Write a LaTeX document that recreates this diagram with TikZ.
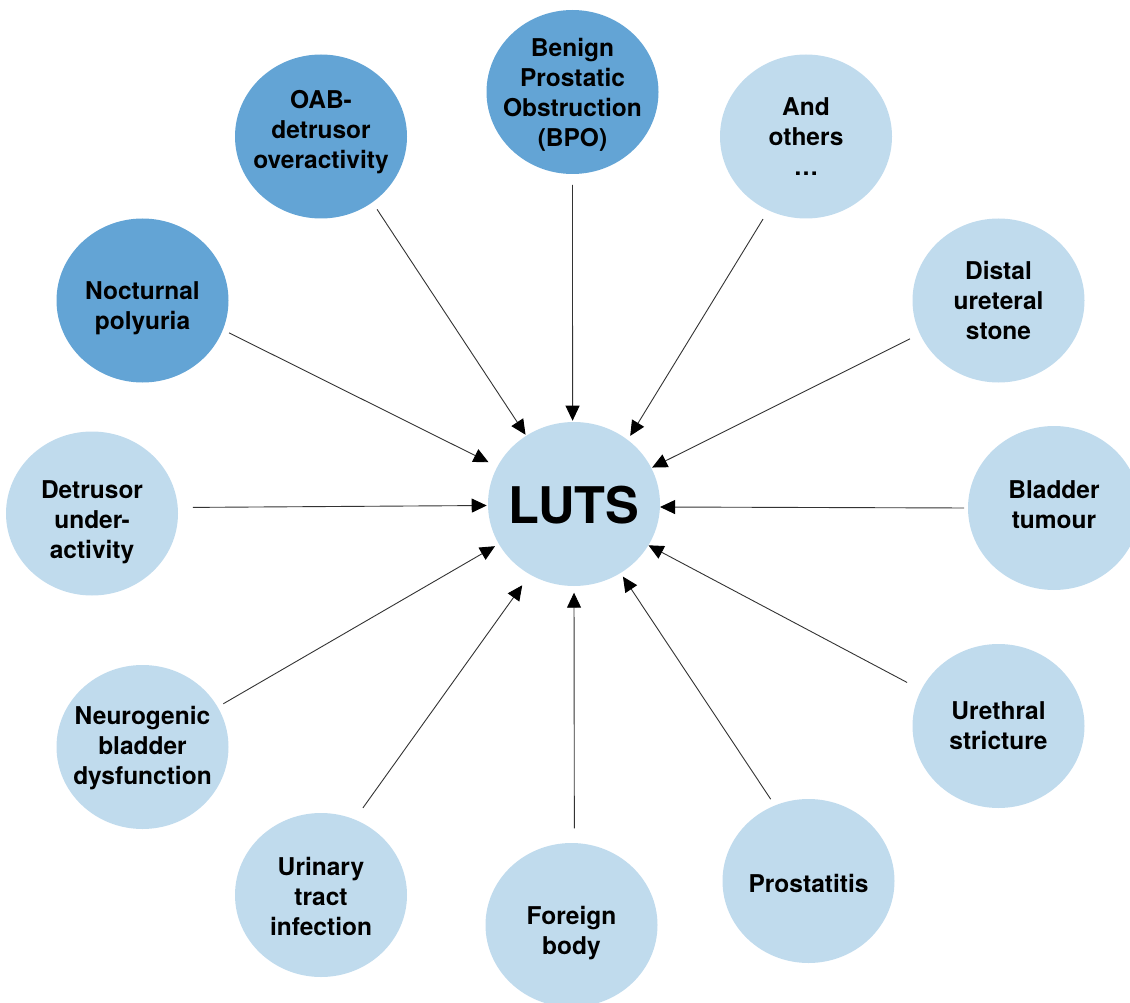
\documentclass[tikz,border=0pt]{standalone}
\usepackage{fontspec}
\setmainfont{TeX Gyre Heros}
\usetikzlibrary{shapes.geometric, arrows.meta}
\definecolor{darkb}{RGB}{99,164,213}
\definecolor{lightb}{RGB}{192,219,237}
\newcommand{\topstrut}[1]{\rule{0pt}{#1}}
\begin{document}
\begin{tikzpicture}[x=1pt,y=-1pt,
  bubble/.style={ellipse, minimum width=172pt, minimum height=164pt,
    inner sep=-30pt, outer sep=0pt, align=center,
    font=\fontsize{24.5}{30}\selectfont\bfseries, text depth=0pt},
  darkbubble/.style={bubble, fill=darkb},
  lightbubble/.style={bubble, fill=lightb},
  arr/.style={draw=black!80, line width=0.9pt,
    -{Triangle[length=15pt,width=14pt,color=black]}}]
\useasboundingbox (0,0) rectangle (1130,1003);
\clip (0,0) rectangle (1130,1003);

\node[lightbubble, font=\fontsize{50.5}{60}\selectfont\bfseries] (luts) at (574,504) {\topstrut{39pt}LUTS};

\node[darkbubble, text depth=15pt] (oab) at (321,136.5) {OAB-\\detrusor\\overactivity};
\node[darkbubble] (bpo) at (572.5,92) {\topstrut{20pt}Benign\\Prostatic\\Obstruction\\(BPO)};
\node[lightbubble] (others) at (806,136.5) {And\\others\\…};
\node[darkbubble] (noct) at (142.5,300.5) {\topstrut{28pt}Nocturnal\\polyuria};
\node[lightbubble] (distal) at (998.5,300.5) {Distal\\ureteral\\stone};
\node[lightbubble] (detr) at (92,513.5) {\topstrut{30pt}Detrusor\\under-\\activity};
\node[lightbubble, text depth=6pt] (bladder) at (1054,508) {Bladder\\tumour};
\node[lightbubble, text depth=4pt] (neuro) at (142.5,747) {Neurogenic\\bladder\\dysfunction};
\node[lightbubble] (ureth) at (998.5,726) {Urethral\\stricture};
\node[lightbubble] (uti) at (321,895) {\topstrut{20pt}Urinary\\tract\\infection};
\node[lightbubble] (foreign) at (571.5,925) {\topstrut{28pt}Foreign\\body};
\node[lightbubble] (prost) at (808.5,881) {\topstrut{22pt}Prostatitis};

\draw[arr, shorten <=8.5pt, shorten >=1.3pt] (oab.-52.4) -- (luts.125.4);
\draw[arr, shorten <=11pt, shorten >=1.3pt] (bpo.-90) -- (luts.91);
\draw[arr, shorten <=10.3pt, shorten >=4.8pt] (others.-117.3) -- (luts.50.65);
\draw[arr, shorten <=7pt, shorten >=9.9pt] (noct.-20.8) -- (luts.154.3);
\draw[arr, shorten <=11.2pt, shorten >=1pt] (distal.-157.4) -- (luts.25.6);
\draw[arr, shorten <=15pt, shorten >=1.3pt] (detr.4.3) -- (luts.181.8);
\draw[arr, shorten <=4pt, shorten >=0.1pt] (bladder.180) -- (luts.-2.2);
\draw[arr, shorten <=6.6pt, shorten >=4.5pt] (neuro.28.5) -- (luts.-152.8);
\draw[arr, shorten <=16pt, shorten >=0.2pt] (ureth.155.1) -- (luts.-29.3);
\draw[arr, shorten <=14.2pt, shorten >=13.3pt] (uti.66.9) -- (luts.-122.9);
\draw[arr, shorten <=14.7pt, shorten >=6.7pt] (foreign.88.5) -- (luts.-90);
\draw[arr, shorten <=7.6pt, shorten >=4.4pt] (prost.114.75) -- (luts.-56.9);
\end{tikzpicture}
\end{document}
